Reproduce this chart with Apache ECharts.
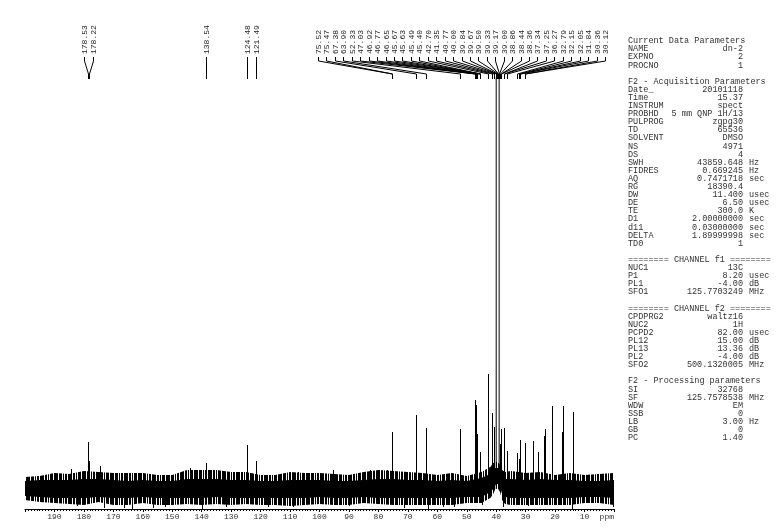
<!DOCTYPE html>
<html><head><meta charset="utf-8">
<script src="https://cdn.jsdelivr.net/npm/echarts@6/dist/echarts.min.js"></script>
<style>html,body{margin:0;padding:0;background:#fff}#c{width:784px;height:530px}</style>
</head><body><div id="c"></div><script>
// ---------- DATA ----------
// labelled peak positions (ppm), as printed at the top
const labelPpm = [178.53,178.22,138.54,124.48,121.49,75.52,75.47,67.38,63.90,52.33,47.03,46.92,46.77,46.65,45.67,45.63,45.49,45.40,42.70,41.35,40.77,40.00,39.84,39.67,39.50,39.33,39.17,39.00,38.86,38.44,38.36,37.34,37.25,36.27,32.79,32.15,32.05,31.84,30.36,30.12];
// peak sticks (ppm, estimated height above baseline)
const peakPpm    = [178.53,178.22,138.54,124.48,121.49,75.52,75.47,67.38,63.90,52.33,47.03,46.92,46.77,46.65,45.67,45.63,45.49,45.40,42.70,41.35,40.77,38.86,38.44,38.36,37.34,37.25,36.27,32.79,32.15,32.05,31.84,30.36,30.12,27.6,25.8,23.8,23.5,21.0,17.6,17.3,14.0];
const peakHeight = [47,28,26,44,28,57,45,74,61,60,89,62,84,55,37,30,34,28,115,76,62,45,60,52,61,50,38,36,30,40,49,46,38,48,37,53,60,83,57,83,77];
// DMSO-d6 septet (off scale, estimated)
const solventPpm    = [40.00,39.84,39.67,39.50,39.33,39.17,39.00];
const solventHeight = [950,2800,5600,6500,5600,2800,950];
// noise band envelope
const noisePpm  = [200,195,190,185,180,175,170,165,160,155,150,145,140,135,130,125,120,115,110,105,100,95,90,85,80,75,70,65,60,55,50,45,42,41,40.3,39.5,38.7,38,37,35,30,25,20,15,10,5,0];
const outerHigh = [12,13,16,15,18,17,16,16,16,14,14,19,19,19,17,17,14,14,17,16,16,15,14,17,19,18,17,16,14,16,13,17,22,26,27,27,24,19,17,18,16,17,14,16,14,15,16];
const outerLow  = [-11,-13,-14,-15,-16,-13,-16,-16,-14,-16,-16,-15,-16,-15,-16,-15,-16,-16,-17,-16,-15,-16,-16,-14,-15,-16,-16,-16,-16,-16,-14,-14,-9,-5,0,1,-3,-11,-15,-16,-16,-16,-16,-16,-14,-14,-16];
const coreHigh  = [8,9,9,9,10,10,9,8,9,8,8,10,10,10,9,9,8,8,9,9,9,8,8,9,10,10,9,9,8,9,8,11,15,19,21,21,17,12,10,10,9,10,9,9,8,8,9];
const coreLow   = [-7,-8,-9,-9,-9,-8,-9,-9,-8,-9,-9,-9,-9,-8,-9,-9,-9,-9,-9,-9,-8,-9,-9,-8,-9,-9,-9,-9,-9,-9,-8,-8,-3,0,4,5,2,-5,-8,-9,-9,-9,-9,-9,-8,-8,-9];
// prominent noise spikes (ppm, value)
const spikePpm   = [184.4,182.3,174.5,173.2,166.4,163.7,156.5,152.5,144.0,140.0,131.8,117.5,109.0,107.3,95.4,90.0,82.8,77.0,71.3,63.2,58.0,54.3,44.8,37.7,29.2,14.1,5.8,0.3,0.05];
const spikeValue = [20,-17,23,-19,-19,-20,-19,-18,21,-21,-18,-18,-18,17,19,-17,19,19,-19,-20,-18,-18,-16,-18,-17,-21,15,-18,17];
// axis
const axisMin = 0, axisMax = 200, axisStep = 10;
// parameter panel text
const paramRows = [
 ['Current Data Parameters'],['NAME','dn-2'],['EXPNO','2'],['PROCNO','1'],null,
 ['F2 - Acquisition Parameters'],['Date_','20101118'],['Time','15.37'],['INSTRUM','spect'],['PROBHD','5 mm QNP 1H/13'],['PULPROG','zgpg30'],['TD','65536'],['SOLVENT','DMSO'],['NS','4971'],['DS','4'],['SWH','43859.648','Hz'],['FIDRES','0.669245','Hz'],['AQ','0.7471718','sec'],['RG','18390.4'],['DW','11.400','usec'],['DE','6.50','usec'],['TE','300.0','K'],['D1','2.00000000','sec'],['d11','0.03000000','sec'],['DELTA','1.89999998','sec'],['TD0','1'],null,
 ['======== CHANNEL f1 ========'],['NUC1','13C'],['P1','8.20','usec'],['PL1','-4.00','dB'],['SFO1','125.7703249','MHz'],null,
 ['======== CHANNEL f2 ========'],['CPDPRG2','waltz16'],['NUC2','1H'],['PCPD2','82.00','usec'],['PL12','15.00','dB'],['PL13','13.36','dB'],['PL2','-4.00','dB'],['SFO2','500.1320005','MHz'],null,
 ['F2 - Processing parameters'],['SI','32768'],['SF','125.7578538','MHz'],['WDW','EM'],['SSB','0'],['LB','3.00','Hz'],['GB','0'],['PC','1.40']
];

// ---------- LAYOUT / STYLE ----------
const MONO = '"Liberation Mono","DejaVu Sans Mono",monospace';
const LABEL_GAP = 8.44, LABEL_EDGE = 9;
const PANEL_X = 628, PANEL_VALUE_RIGHT = 743, PANEL_UNIT_X = 749, PANEL_TOP = 41, ROW_H = 8.1;

// stripe texture for the fuzzy edge of the noise band (style only)
function stripeTexture(){
  const cols = [1,1,0,1,1,1,0,1,0,1,1,0,1,1,1,1,0,1,1,0,1,0,1,1,1,0,1,1];
  const c = document.createElement('canvas');
  c.width = cols.length; c.height = 1;
  const g = c.getContext('2d');
  cols.forEach((v, i) => { g.fillStyle = v ? '#000' : '#fff'; g.fillRect(i, 0, 1, 1); });
  return {image: c, repeat: 'repeat'};
}
const STRIPES = stripeTexture();

const chart = echarts.init(document.getElementById('c'));

function crisp(x){ return Math.round(x) + 0.5; }

function stickRender(params, api){
  const p0 = api.coord([api.value(0), 0]);
  const p1 = api.coord([api.value(0), api.value(1)]);
  const x = crisp(p0[0]);
  return {type:'line', shape:{x1:x, y1:p0[1], x2:x, y2:p1[1]}, style:{stroke:'#000', lineWidth:1}};
}

function bandRender(high, low, fill){
  return function(params, api){
    if (params.dataIndex !== 0) return null;
    const pts = [];
    for (let i = 0; i < noisePpm.length; i++) pts.push(api.coord([noisePpm[i], high[i]]));
    for (let i = noisePpm.length - 1; i >= 0; i--) pts.push(api.coord([noisePpm[i], low[i]]));
    return {type:'polygon', shape:{points:pts}, style:{fill: fill, stroke: null}};
  };
}

let slotCache = null;
function layoutLabels(api, cs){
  const items = labelPpm.map((p, i) => ({i, px: api.coord([p, 0])[0]})).sort((a, b) => a.px - b.px);
  const lo = cs.x + LABEL_EDGE, hi = cs.x + cs.width - LABEL_EDGE;
  const clamp = g => { const half = (g.members.length - 1) / 2 * LABEL_GAP; g.center = Math.min(Math.max(g.center, lo + half), hi - half); };
  let groups = items.map(it => ({members:[it], center: it.px}));
  groups.forEach(clamp);
  let merged = true;
  while (merged){
    merged = false;
    for (let k = 0; k < groups.length - 1; k++){
      const a = groups[k], b = groups[k + 1];
      const aEnd = a.center + (a.members.length - 1) / 2 * LABEL_GAP;
      const bStart = b.center - (b.members.length - 1) / 2 * LABEL_GAP;
      if (bStart - aEnd < LABEL_GAP - 0.01){
        const m = {members: a.members.concat(b.members)};
        m.center = m.members.reduce((s, t) => s + t.px, 0) / m.members.length;
        clamp(m);
        groups.splice(k, 2, m);
        merged = true; break;
      }
    }
  }
  const out = [];
  groups.forEach(g => { const n = g.members.length; g.members.forEach((t, j) => { out[t.i] = {x: g.center + (j - (n - 1) / 2) * LABEL_GAP, px: t.px}; }); });
  return out;
}

function labelRender(params, api){
  const cs = params.coordSys;
  if (params.dataIndex === 0 || !slotCache) slotCache = layoutLabels(api, cs);
  const s = slotCache[params.dataIndex];
  const sx = crisp(s.x), px = crisp(s.px);
  const top = cs.y;
  return {type:'group', children:[
    {type:'text', x: sx, y: top - 24, rotation: Math.PI / 2,
     style:{text: labelPpm[params.dataIndex].toFixed(2), align:'left', verticalAlign:'middle', fill:'#222', font:'8px ' + MONO}},
    {type:'polyline', shape:{points:[[sx, top - 21], [sx, top - 17], [px, top - 4], [px, top + 1]]},
     style:{stroke:'#000', fill:null, lineWidth:1}}
  ]};
}

const graphics = [];
paramRows.forEach((r, i) => {
  if (!r) return;
  const y = PANEL_TOP + i * ROW_H;
  graphics.push({type:'text', x: PANEL_X, y: y, style:{text: r[0], fill:'#333', font:'8.5px ' + MONO, align:'left', verticalAlign:'middle'}});
  if (r[1] !== undefined) graphics.push({type:'text', x: PANEL_VALUE_RIGHT, y: y, style:{text: r[1], fill:'#333', font:'8.5px ' + MONO, align:'right', verticalAlign:'middle'}});
  if (r[2] !== undefined) graphics.push({type:'text', x: PANEL_UNIT_X, y: y, style:{text: r[2], fill:'#333', font:'8.5px ' + MONO, align:'left', verticalAlign:'middle'}});
});

const solventLine = [[solventPpm[0], 0]].concat(solventPpm.map((p, i) => [p, solventHeight[i]])).concat([[solventPpm[solventPpm.length - 1], 0]]);

chart.setOption({
  animation: false,
  backgroundColor: '#fff',
  grid: {left: 25, right: 170, top: 78, bottom: 21},
  xAxis: {
    type: 'value', min: axisMin, max: axisMax, interval: axisStep, inverse: true,
    axisLine: {show: true, onZero: false, lineStyle: {color: '#000', width: 1}},
    axisTick: {show: true, length: 3, lineStyle: {color: '#000'}},
    minorTick: {show: true, splitNumber: 10, length: 2, lineStyle: {color: '#000'}},
    splitLine: {show: false}, minorSplitLine: {show: false},
    axisLabel: {color: '#333', fontFamily: 'Liberation Mono', fontSize: 8, margin: 4,
      showMaxLabel: false, showMinLabel: true, alignMinLabel: 'right',
      formatter: v => v === axisMin ? 'ppm' : (v === axisMax ? '' : String(v))}
  },
  yAxis: {type: 'value', min: -20, max: 411, show: false, splitLine: {show: false}},
  graphic: graphics,
  series: [
    {type: 'custom', name: 'noise outer', renderItem: bandRender(outerHigh, outerLow, STRIPES), data: noisePpm.map((p, i) => [p, outerHigh[i], outerLow[i]]), clip: true, z: 1, silent: true},
    {type: 'custom', name: 'noise core', renderItem: bandRender(coreHigh, coreLow, '#000'), data: noisePpm.map((p, i) => [p, coreHigh[i], coreLow[i]]), clip: true, z: 2, silent: true},
    {type: 'custom', name: 'spikes', renderItem: stickRender, data: spikePpm.map((p, i) => [p, spikeValue[i]]), clip: true, z: 3, silent: true},
    {type: 'custom', name: 'peaks', renderItem: stickRender, data: peakPpm.map((p, i) => [p, peakHeight[i]]), clip: true, z: 4, silent: true},
    {type: 'line', name: 'DMSO', data: solventLine, showSymbol: false, clip: true, lineStyle: {color: '#000', width: 1}, z: 4, silent: true},
    {type: 'custom', name: 'labels', renderItem: labelRender, data: labelPpm.map(p => [p, 0]), clip: false, z: 5, silent: true}
  ]
});
</script></body></html>
